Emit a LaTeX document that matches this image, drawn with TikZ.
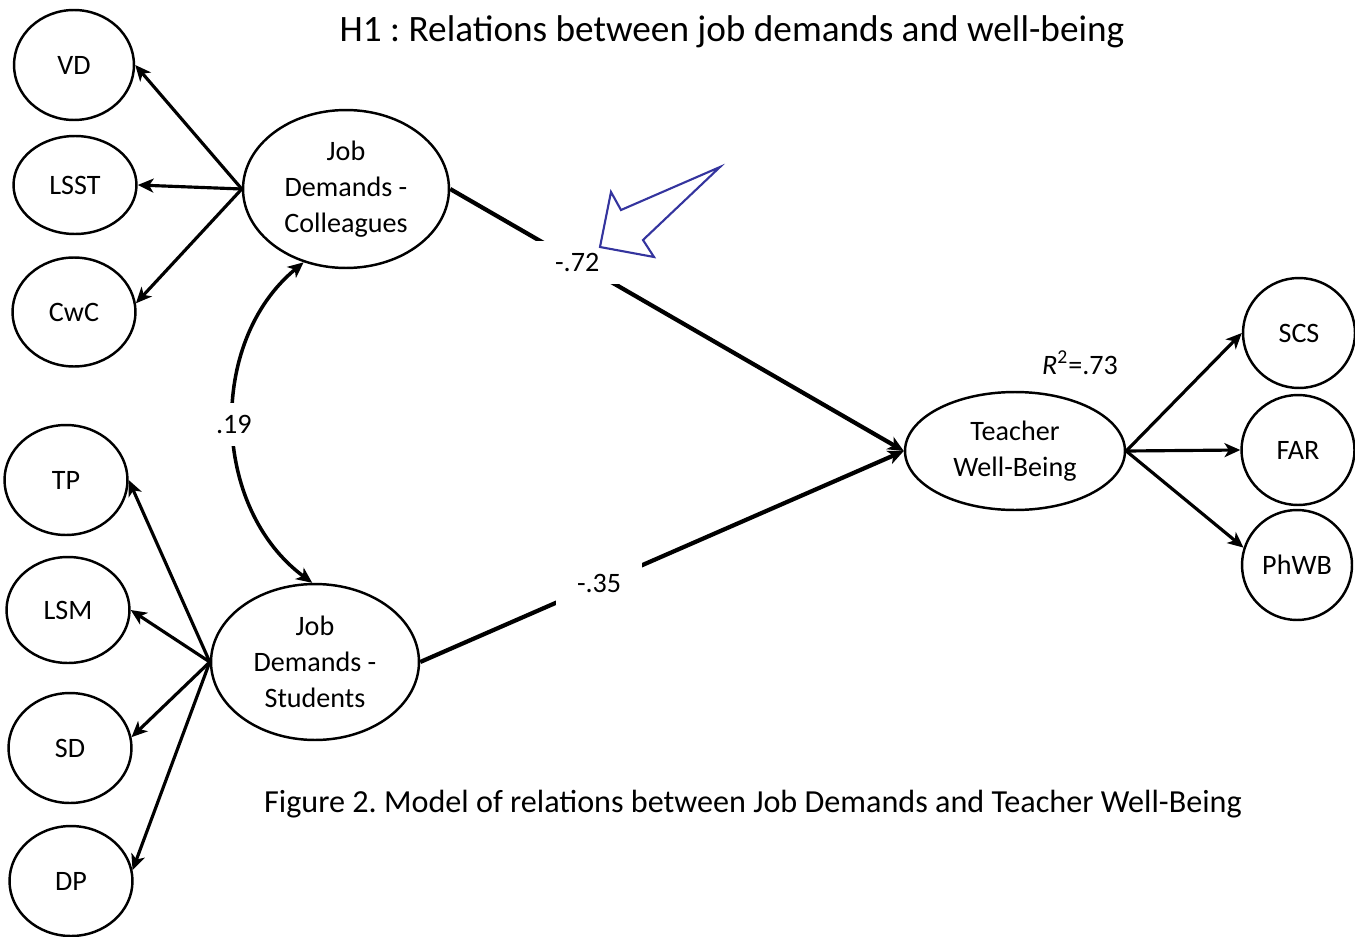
\documentclass[tikz,border=0pt]{standalone}
\usepackage{fontspec}
\setmainfont{Carlito}
\usepackage{tikz}
\usetikzlibrary{shapes.geometric}
\usetikzlibrary{arrows.meta}
\tikzset{>={Stealth[length=9pt,width=8pt,inset=2.5pt]}}
\definecolor{hintcol}{RGB}{52,52,158}
\tikzset{ind/.style={ellipse,draw,line width=1.4pt,inner sep=0pt,minimum width=2.46cm,minimum height=2.18cm,font=\fontsize{16}{20}\selectfont}}
\tikzset{lat/.style={ind,align=center,font=\fontsize{16}{20.5}\selectfont}}
\tikzset{load/.style={->,line width=1.8pt}}
\tikzset{reg/.style={->,line width=2.4pt}}
\tikzset{coef/.style={fill=white,inner xsep=12pt,inner ysep=7pt,font=\fontsize{16}{20}\selectfont}}
\frenchspacing

\begin{document}
\begin{tikzpicture}[x=0.02cm,y=-0.02cm]
                    \useasboundingbox (0,0) rectangle (1355,936);

                    \node[ind,minimum width=2.4cm,minimum height=2.2cm] (vd) at (74,65) {VD};
                    \node[ind,minimum height=1.96cm] (lsst) at (75,185) {LSST};
                    \node[ind] (cwc) at (74,312) {CwC};
                    \node[lat,minimum width=4.12cm,minimum height=3.16cm] (jdc) at (346,189) {Job\\Demands -\\Colleagues};

                    \node[ind,minimum height=2.2cm] (tp) at (66,480) {TP};
                    \node[ind,minimum height=2.12cm] (lsm) at (68,610) {LSM};
                    \node[ind,minimum height=2.2cm] (sd) at (70,748) {SD};
                    \node[ind,minimum height=2.2cm] (dp) at (71,881) {DP};
                    \node[lat,minimum width=4.16cm,minimum height=3.12cm] (jds) at (315,662) {Job\\Demands -\\Students};

                    \node[lat,minimum width=4.4cm,minimum height=2.36cm] (twb) at (1015,451) {Teacher\\Well-Being};
                    \node[ind,minimum width=2.24cm,minimum height=2.2cm] (scs) at (1299,333) {SCS};
                    \node[ind,minimum width=2.26cm,minimum height=2.2cm] (far) at (1298,450) {FAR};
                    \node[ind,minimum width=2.2cm,minimum height=2.2cm] (phwb) at (1297,565) {PhWB};

                    \node[font=\fontsize{21.2}{25}\selectfont] (title) at (732,32) {H1 : Relations between job demands and well-being};
                    \node[font=\fontsize{18.3}{22}\selectfont] (caption) at (753,804) {Figure 2. Model of relations between Job Demands and Teacher Well-Being};
                    \node[font=\fontsize{16}{20}\selectfont] (rsq) at (1080,363) {\textit{R}\textsuperscript{2}=.73};

                    \draw[load] (jdc.west) -- (vd.east);
                    \draw[load] (jdc.west) -- (lsst.east);
                    \draw[load] (jdc.west) -- (cwc.8);

                    \draw[load] (jds.west) -- (tp.east);
                    \draw[load] (jds.west) -- (lsm.east);
                    \draw[load] (jds.west) -- (sd.10);
                    \draw[load] (jds.west) -- (dp.10);

                    \draw[load] (twb.east) -- (scs.west);
                    \draw[load] (twb.east) -- (far.west);
                    \draw[load] (twb.east) -- (phwb.162);

                    \draw[reg] (jdc.east) -- node[coef,pos=0.28] {-.72} (twb.west);
                    \draw[reg] (jds.east) -- node[coef,pos=0.37] {-.35} (twb.west);
                    \draw[<->,line width=2pt] (jdc.240) to[bend right=52] node[coef] {.19} (jds.92);

                    \draw[hintcol,line width=1.2pt] (600,247) -- (611,192) -- (621,210) -- (720,167) -- (643,240) -- (654,257) -- cycle;
                \end{tikzpicture}
\end{document}
